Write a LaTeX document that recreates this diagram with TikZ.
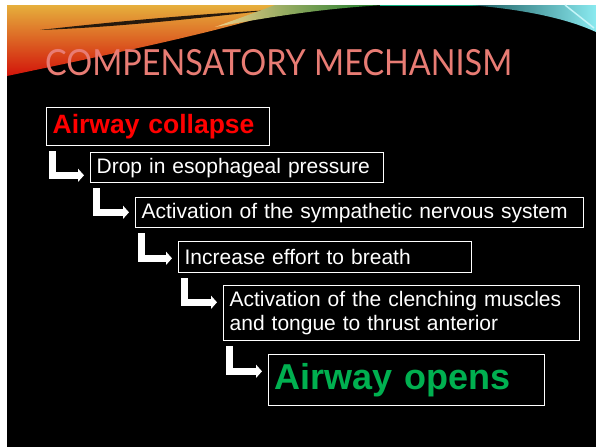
\documentclass[tikz,border=0pt]{standalone}
\usepackage{fontspec}
\setmainfont{Liberation Sans}
\newfontfamily\titlefont{Lato}
\usetikzlibrary{arrows.meta}
\definecolor{titlesalmon}{RGB}{232,124,116}
\definecolor{stepred}{RGB}{255,0,0}
\definecolor{stepgreen}{RGB}{0,176,80}
\definecolor{swyellow}{RGB}{230,175,60}
\definecolor{sworange}{RGB}{228,115,25}
\definecolor{swred}{RGB}{210,20,10}
\definecolor{swgreen}{RGB}{20,120,40}
\definecolor{swcyan}{RGB}{60,220,230}
\tikzset{
  stepbox/.style={draw=white,line width=1.3pt,anchor=north west,text=white,
    font=\fontsize{21}{24}\selectfont,align=left,inner xsep=6pt,inner ysep=0pt},
  elbow/.style={draw=white,line width=7pt,shorten >=6pt,
    -{Triangle[length=6pt,width=13pt]}},
}
\begin{document}
\begin{tikzpicture}[x=1pt,y=-1pt]
\useasboundingbox (0,0) rectangle (596,447);
\fill[black] (7,5) rectangle (596,447);

\shade[top color=swyellow,middle color=sworange,bottom color=swred]
  (7,5) -- (300,5) .. controls (230,30) and (120,52) .. (7,76) -- cycle;
\fill[black!80!brown] (40,30) .. controls (120,21) and (200,14) .. (272,10)
  .. controls (200,18) and (120,27) .. (40,30) -- cycle;
\shade[left color=swyellow!60!white,right color=swgreen]
  (215,27) .. controls (280,15) and (330,8) .. (385,5) -- (275,5)
  .. controls (262,10) and (240,18) .. (215,27) -- cycle;
\draw[swgreen!60!cyan,line width=1pt] (380,5.5) -- (480,5.5);
\shade[left color=swcyan!40!black,right color=swcyan!60!white]
  (470,5) .. controls (530,10) and (570,20) .. (596,32) -- (596,5) -- cycle;
\draw[white!70!swcyan,line width=1.5pt] (565,5) -- (594,28);

\node[anchor=base west,inner sep=0pt,text=titlesalmon,
  font=\titlefont\fontsize{36}{40}\selectfont] (title) at (45,75)
  {\scalebox{0.9}[1]{COMPENSATORY MECHANISM}};

\node[stepbox,text width=211pt,minimum height=38pt,text=stepred,
  font=\bfseries\fontsize{26.5}{30}\selectfont] (b1) at (46,107) {Airway collapse};
\node[stepbox,text width=281pt,minimum height=30pt] (b2) at (90,152)
  {Drop in esophageal pressure};
\node[stepbox,text width=436pt,minimum height=30pt] (b3) at (135,197)
  {Activation of the sympathetic nervous system};
\node[stepbox,text width=281pt,minimum height=31pt] (b4) at (178,241)
  {Increase effort to breath};
\node[stepbox,text width=344pt,minimum height=55pt] (b5) at (223,285)
  {Activation of the clenching muscles\\and tongue to thrust anterior};
\node[stepbox,text width=264pt,minimum height=51pt,text=stepgreen,
  font=\bfseries\fontsize{36}{40}\selectfont] (b6) at (268,354) {Airway opens};

\draw[elbow] ([shift={(6,5)}]b1.south west) -- ++(0,24) coordinate (k1) -- (k1 -| b2.west);
\draw[elbow] ([shift={(6,5)}]b2.south west) -- ++(0,24) coordinate (k2) -- (k2 -| b3.west);
\draw[elbow] ([shift={(6,5)}]b3.south west) -- ++(0,25) coordinate (k3) -- (k3 -| b4.west);
\draw[elbow] ([shift={(6,5)}]b4.south west) -- ++(0,24) coordinate (k4) -- (k4 -| b5.west);
\draw[elbow] ([shift={(6,5)}]b5.south west) -- ++(0,25) coordinate (k5) -- (k5 -| b6.west);
\end{tikzpicture}
\end{document}
